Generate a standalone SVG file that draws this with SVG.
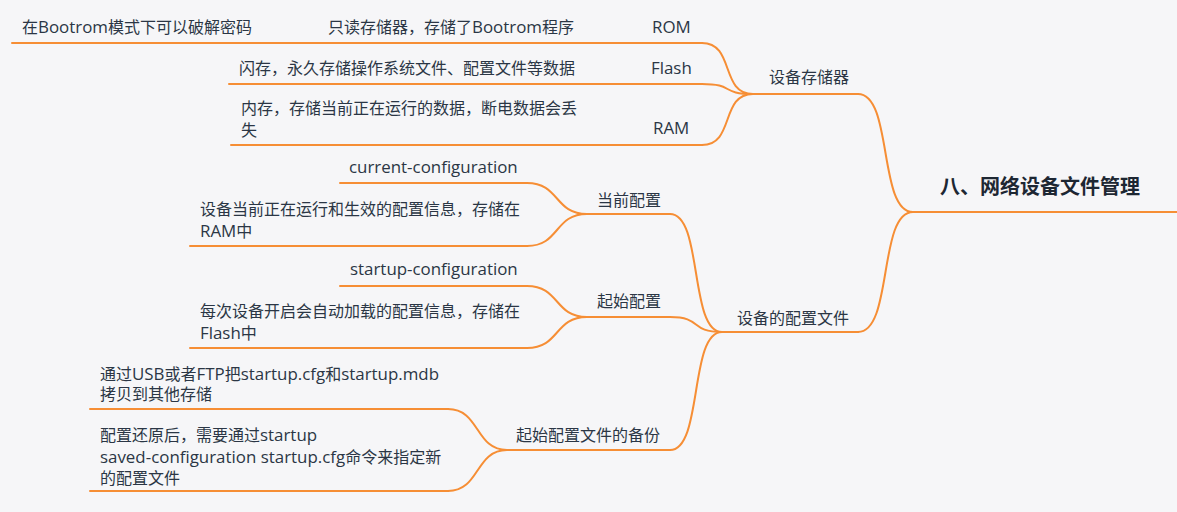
<svg xmlns="http://www.w3.org/2000/svg" width="1177" height="512" viewBox="0 0 1177 512">
<style>
text{font-family:"Open Sans","Noto Sans CJK SC",sans-serif;font-size:16px;fill:#2b3645}
.l{font-size:16.9px}
.root{font-size:20px;font-weight:bold;fill:#1d2733}
.u,.c{fill:none;stroke:#f68e35;stroke-width:2;stroke-linecap:round}
</style>
<rect width="1177" height="512" fill="#f6f6f8"/>
<g id="connectors">
<path class="c" d="M858,94 C893,94 878,212 913,212"/>
<path class="c" d="M858,332 C893,332 878,212 913,212"/>
<path class="c" d="M702,43 C735,43 720,94 753,94"/>
<path class="c" d="M702,84 C735,84 720,94 753,94"/>
<path class="c" d="M702,145 C735,145 720,94 753,94"/>
<path class="c" d="M260,43 L318,43"/>
<path class="c" d="M583,43 L643,43"/>
<path class="c" d="M583,84 L643,84"/>
<path class="c" d="M583,145 L643,145"/>
<path class="c" d="M670,214 C703,214 689,332 722,332"/>
<path class="c" d="M670,317 C703,317 689,332 722,332"/>
<path class="c" d="M670,450 C703,450 689,332 722,332"/>
<path class="c" d="M527,183 C560,183 554,214 587,214"/>
<path class="c" d="M527,246 C560,246 554,214 587,214"/>
<path class="c" d="M527,286 C560,286 554,317 587,317"/>
<path class="c" d="M527,348 C560,348 554,317 587,317"/>
<path class="c" d="M448,409 C480,409 475,450 507,450"/>
<path class="c" d="M448,491 C480,491 475,450 507,450"/>
</g>
<g id="root"><text class="root" x="940" y="194">八、网络设备文件管理</text><path class="u" d="M913,212 L1177,212"/></g>
<g id="storage"><text x="769" y="83">设备存储器</text><path class="u" d="M753,94 L858,94"/></g>
<g id="rom"><text class="l" x="652" y="33">ROM</text><path class="u" d="M643,43 L702,43"/></g>
<g id="rom-desc"><text x="328" y="33">只读存储器，存储了<tspan class="l">Bootrom</tspan>程序</text><path class="u" d="M318,43 L583,43"/></g>
<g id="rom-note"><text x="22" y="33">在<tspan class="l">Bootrom</tspan>模式下可以破解密码</text><path class="u" d="M12,43 L260,43"/></g>
<g id="flash"><text class="l" x="651" y="74">Flash</text><path class="u" d="M643,84 L702,84"/></g>
<g id="flash-desc"><text x="239" y="74">闪存，永久存储操作系统文件、配置文件等数据</text><path class="u" d="M229,84 L583,84"/></g>
<g id="ram"><text class="l" x="653" y="134">RAM</text><path class="u" d="M643,145 L702,145"/></g>
<g id="ram-desc"><text x="241" y="114">内存，存储当前正在运行的数据，断电数据会丢<tspan x="241" y="136">失</tspan></text><path class="u" d="M231,145 L583,145"/></g>
<g id="config-files"><text x="737" y="324">设备的配置文件</text><path class="u" d="M722,332 L858,332"/></g>
<g id="current"><text x="597" y="206">当前配置</text><path class="u" d="M587,214 L670,214"/></g>
<g id="current-name"><text class="l" x="349" y="173">current-configuration</text><path class="u" d="M340,183 L527,183"/></g>
<g id="current-desc"><text x="200" y="215">设备当前正在运行和生效的配置信息，存储在<tspan x="200" y="237"><tspan class="l">RAM</tspan>中</tspan></text><path class="u" d="M190,246 L527,246"/></g>
<g id="startup"><text x="597" y="307">起始配置</text><path class="u" d="M587,317 L670,317"/></g>
<g id="startup-name"><text class="l" x="350" y="275">startup-configuration</text><path class="u" d="M340,286 L527,286"/></g>
<g id="startup-desc"><text x="200" y="317">每次设备开启会自动加载的配置信息，存储在<tspan x="200" y="339"><tspan class="l">Flash</tspan>中</tspan></text><path class="u" d="M190,348 L527,348"/></g>
<g id="backup"><text x="516" y="441">起始配置文件的备份</text><path class="u" d="M507,450 L670,450"/></g>
<g id="backup-copy"><text x="100" y="380">通过<tspan class="l">USB</tspan>或者<tspan class="l">FTP</tspan>把<tspan class="l">startup.cfg</tspan>和<tspan class="l">startup.mdb</tspan><tspan x="100" y="400">拷贝到其他存储</tspan></text><path class="u" d="M90,409 L448,409"/></g>
<g id="backup-restore"><text x="100" y="441">配置还原后，需要通过<tspan class="l">startup</tspan><tspan x="100" y="463"><tspan class="l">saved-configuration startup.cfg</tspan>命令来指定新</tspan><tspan x="100" y="484">的配置文件</tspan></text><path class="u" d="M90,491 L448,491"/></g>
</svg>
